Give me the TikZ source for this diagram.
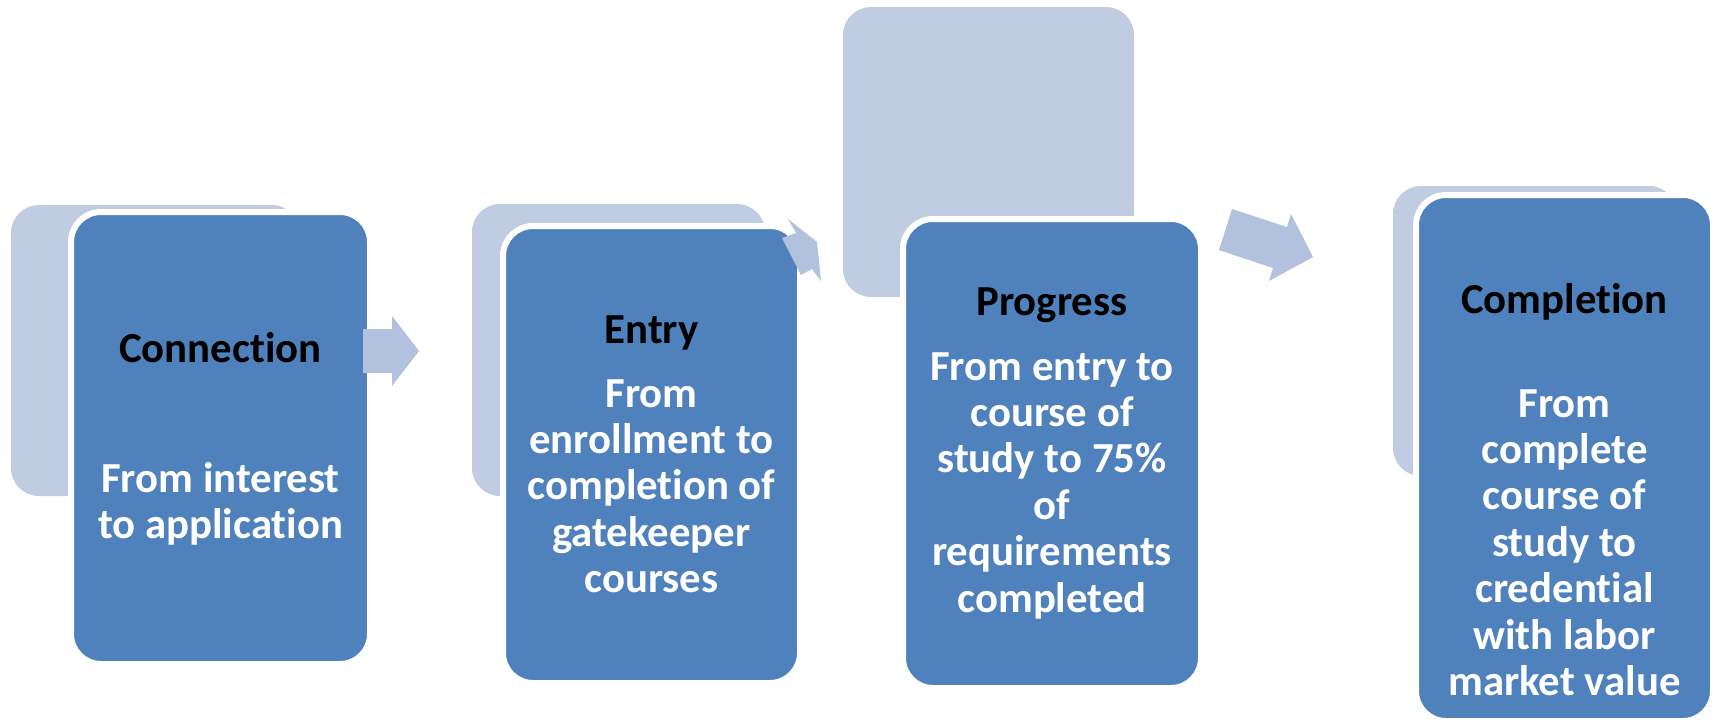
\documentclass[tikz,border=0pt]{standalone}
\usepackage{fontspec}
\setmainfont{Carlito}[Ligatures=NoCommon]
\definecolor{darkbox}{HTML}{4F81BD}
\definecolor{lightbox}{RGB}{192,204,226}
\definecolor{arrowc}{RGB}{178,193,222}
\newcommand\txtstack[1]{\vtop{\halign{\hfil##\hfil\cr#1\crcr}}}
\tikzset{
  backbox/.style={fill=lightbox, rounded corners=14pt},
  frontbox/.style={fill=darkbox, draw=white, line width=3pt, rounded corners=15pt},
  blockarrow/.style={fill=arrowc},
  titletext/.style={anchor=base, inner sep=0pt, font=\fontsize{21.4}{23.2}\selectfont\bfseries, text=black},
  bodytext/.style={anchor=base, inner sep=0pt, font=\fontsize{21.4}{23.2}\selectfont\bfseries, text=white},
}
\begin{document}
\begin{tikzpicture}[x=0.5pt,y=-0.5pt]
\useasboundingbox[fill=white] (0,0) rectangle (1715,720);
% back (light) boxes
\path[backbox] (11,205) rectangle (300,496);
\path[backbox] (472,204) rectangle (765,496);
\path[backbox] (843,7) rectangle (1134,297);
\path[backbox] (1393,186) rectangle (1677,476);
% front (dark) boxes
\path[frontbox] (71,212) rectangle (370,664);
\path[frontbox] (503,226) rectangle (800,683);
\path[frontbox] (903,219) rectangle (1201,688);
\path[frontbox] (1416,195) rectangle (1713,721);
% arrows
\path[blockarrow] (363,329) -- (392,329) -- (392,316) -- (419,351) -- (392,386) -- (392,373) -- (363,373) -- cycle;
\path[blockarrow] (782,238) -- (796,233) -- (788,219) -- (817,242) -- (821,281) -- (812,269) -- (801,275) -- cycle;
\path[blockarrow] (1219,250) -- (1232,209) -- (1287,227) -- (1291,214) -- (1313,257) -- (1269,281) -- (1273,268) -- cycle;
% texts
\node[titletext] (t1) at (220.5,362) {Connection};
\node[bodytext] (b1) at (220.5,492) {\txtstack{From interest\cr to application}};
\node[titletext] (t2) at (651.5,343) {Entry};
\node[bodytext] (b2) at (651.5,407) {\txtstack{From\cr enrollment to\cr completion of\cr gatekeeper\cr courses}};
\node[titletext] (t3) at (1052,315) {Progress};
\node[bodytext] (b3) at (1052,380) {\txtstack{From entry to\cr course of\cr study to 75\%\cr of\cr requirements\cr completed}};
\node[titletext] (t4) at (1564.5,313) {Completion};
\node[bodytext] (b4) at (1564.5,417) {\txtstack{From\cr complete\cr course of\cr study to\cr credential\cr with labor\cr market value}};
\end{tikzpicture}
\end{document}
